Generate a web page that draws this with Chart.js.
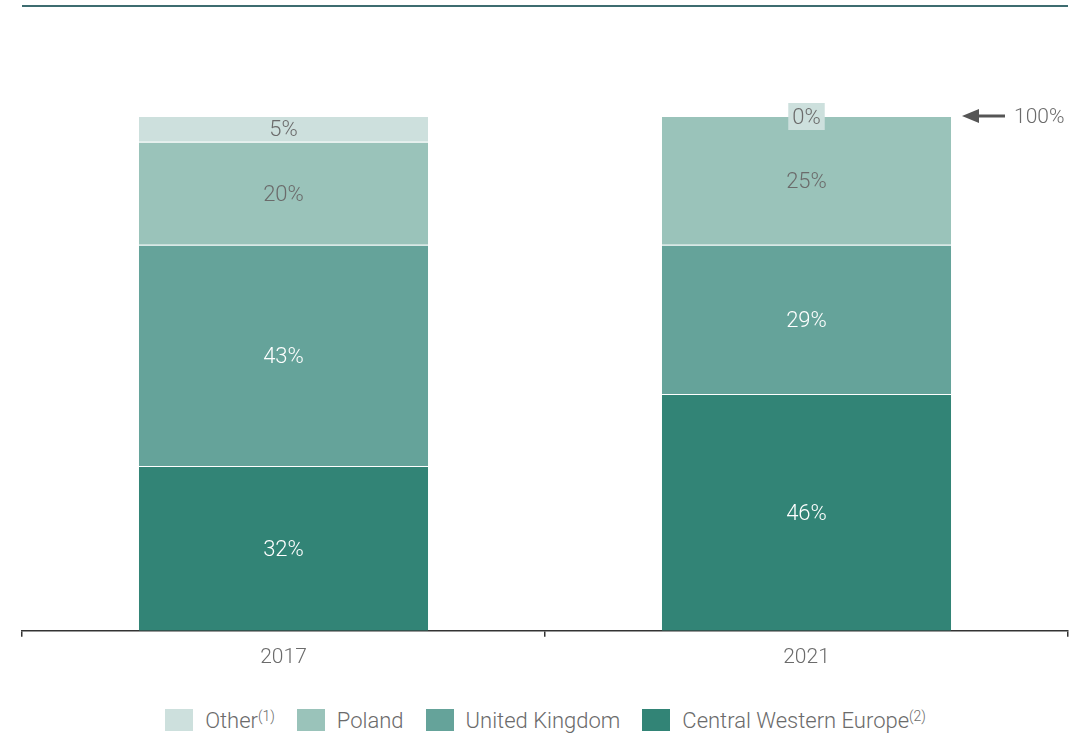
<!DOCTYPE html>
<html>
<head>
<meta charset="utf-8">
<script src="https://cdn.jsdelivr.net/npm/chart.js@4.4.1/dist/chart.umd.min.js"></script>
<style>
  body { margin: 0; background: #fff; font-family: Roboto, "Liberation Sans", sans-serif; }
  #wrap { position: relative; width: 1089px; height: 690px; }
  #legend { display: flex; justify-content: center; align-items: center; height: 60px;
            font-weight: 300; font-size: 22px; color: #6b6b6b; padding-left: 2px; }
  #legend .item { display: flex; align-items: center; margin: 0 11px; }
  #legend .box { width: 28px; height: 22px; margin-right: 12px; }
  #legend sup { font-size: 14px; vertical-align: 0; position: relative; top: -7px; }
</style>
</head>
<body>
<div id="wrap"><canvas id="chart"></canvas></div>
<div id="legend"></div>
<script>
const years = ['2017', '2021'];
const seriesNames = ['Central Western Europe', 'United Kingdom', 'Poland', 'Other'];
const centralWesternEurope = [32, 46];
const unitedKingdom = [43, 29];
const poland = [20, 25];
const other = [5, 0];
const colors = ['#328476', '#65a39a', '#9ac3ba', '#cde0dd'];
const labelColors = ['#ffffff', '#ffffff', '#6b6b6b', '#6b6b6b'];
const notes = { 'Other': '(1)', 'Central Western Europe': '(2)' };
const totalLabel = '100%';

const seriesValues = [centralWesternEurope, unitedKingdom, poland, other];
const FONT = 'Roboto, "Liberation Sans", sans-serif';

// percent labels centred in each segment; zero-height ones get a small tinted box
const segmentLabels = {
  id: 'segmentLabels',
  afterDatasetsDraw(chart) {
    const ctx = chart.ctx;
    ctx.save();
    ctx.font = '300 22px ' + FONT;
    ctx.textAlign = 'center';
    ctx.textBaseline = 'middle';
    chart.data.datasets.forEach((ds, di) => {
      chart.getDatasetMeta(di).data.forEach((bar, i) => {
        const v = ds.data[i];
        const txt = v + '%';
        const y = v === 0 ? bar.y : (bar.y + bar.base) / 2;
        if (v === 0) {
          const w = ctx.measureText(txt).width + 8;
          ctx.fillStyle = colors[di];
          ctx.fillRect(bar.x - w / 2, y - 13, w, 27);
        }
        ctx.fillStyle = labelColors[di];
        ctx.fillText(txt, bar.x, y + 2);
      });
    });
    ctx.restore();
  }
};

// rule across the top and the total marker on the right
const frame = {
  id: 'frame',
  afterDraw(chart) {
    const { ctx, chartArea, scales } = chart;
    ctx.save();
    ctx.fillStyle = '#3d6c70';
    ctx.fillRect(chartArea.left, 5, chartArea.right - chartArea.left, 2);

    const y = scales.y.getPixelForValue(100);
    ctx.strokeStyle = '#555';
    ctx.fillStyle = '#555';
    ctx.lineWidth = 3;
    ctx.beginPath();
    ctx.moveTo(975, y);
    ctx.lineTo(1005, y);
    ctx.stroke();
    ctx.beginPath();
    ctx.moveTo(962, y);
    ctx.lineTo(979, y - 7);
    ctx.lineTo(979, y + 7);
    ctx.closePath();
    ctx.fill();

    ctx.font = '300 21px ' + FONT;
    ctx.fillStyle = '#6b6b6b';
    ctx.textAlign = 'left';
    ctx.textBaseline = 'middle';
    ctx.fillText(totalLabel, 1014, y + 2);
    ctx.restore();
  }
};

new Chart(document.getElementById('chart'), {
  type: 'bar',
  data: {
    labels: years,
    datasets: seriesNames.map((name, i) => ({
      label: name,
      data: seriesValues[i],
      backgroundColor: colors[i],
      borderColor: '#ffffff',
      borderWidth: { top: 1, left: 0, right: 0, bottom: 0 },
      borderSkipped: false,
      categoryPercentage: 1,
      barPercentage: 0.553
    }))
  },
  options: {
    responsive: true,
    maintainAspectRatio: false,
    animation: false,
    layout: { padding: { left: 22, right: 21, top: 116, bottom: 12 } },
    plugins: { legend: { display: false }, tooltip: { enabled: false } },
    scales: {
      x: {
        stacked: true,
        border: { display: true, color: '#333', width: 1.5 },
        grid: { offset: true, drawOnChartArea: false, tickLength: 6, color: '#333', lineWidth: 1.5 },
        ticks: { color: '#6b6b6b', font: { family: FONT, size: 21, weight: 300 }, padding: 8 }
      },
      y: { stacked: true, display: false, min: 0, max: 100 }
    }
  },
  plugins: [segmentLabels, frame]
});

// legend, lightest series first, with footnote markers
const legend = document.getElementById('legend');
seriesNames.slice().reverse().forEach((name, k) => {
  const i = seriesNames.length - 1 - k;
  const item = document.createElement('div');
  item.className = 'item';
  item.innerHTML = '<span class="box" style="background:' + colors[i] + '"></span><span>' + name +
    (notes[name] ? '<sup>' + notes[name] + '</sup>' : '') + '</span>';
  legend.appendChild(item);
});
</script>
</body>
</html>
